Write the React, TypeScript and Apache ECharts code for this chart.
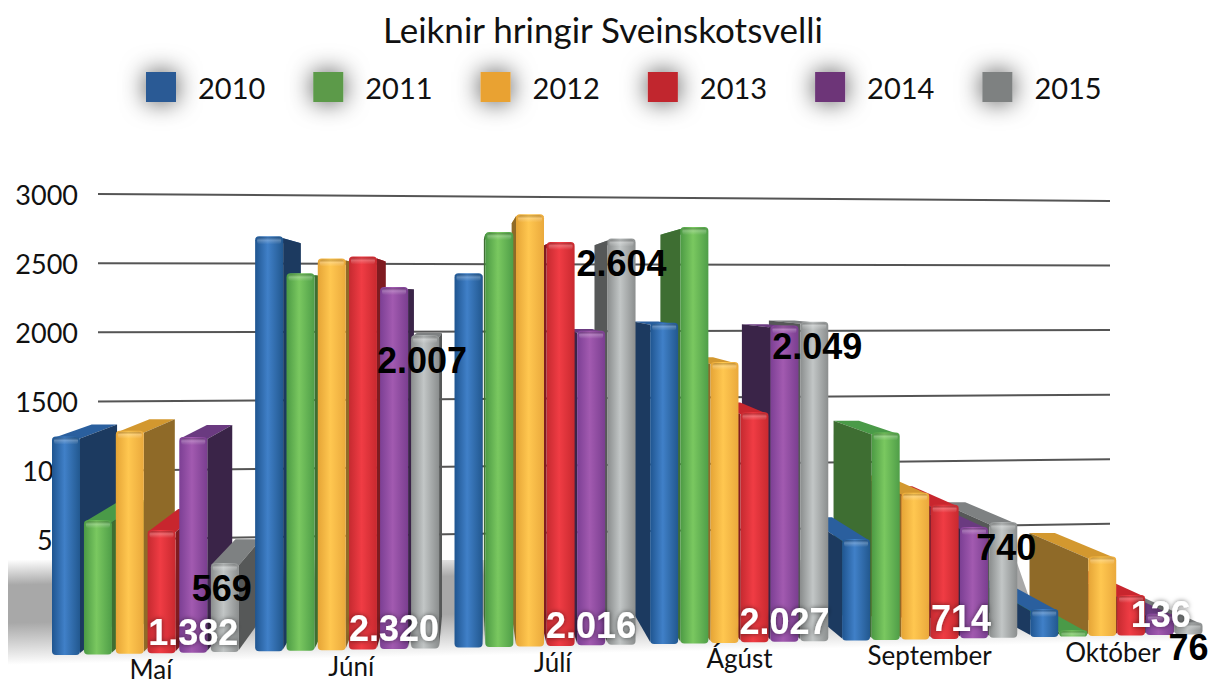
import React, { useEffect, useRef } from "react";
import * as echarts from "echarts";

const months = ["Maí", "Júní", "Júlí", "Ágúst", "September", "Október"];
const years = ["2010", "2011", "2012", "2013", "2014", "2015"];
const v2010 = [1400, 2660, 2400, 2060, 650, 180];
const v2011 = [860, 2420, 2660, 2670, 1330, 40];
const v2012 = [1430, 2510, 2770, 1800, 940, 510];
const v2013 = [790, 2520, 2590, 1475, 860, 260];
const v2014 = [1382, 2320, 2016, 2027, 714, 136];
const v2015 = [569, 2007, 2604, 2049, 740, 76];
const gridTicks = [500, 1000, 1500, 2000, 2500, 3000];
const allValues = [v2010, v2011, v2012, v2013, v2014, v2015];

const legendColors = ["#2a5a95", "#5b9a4a", "#e9a233", "#c1272d", "#6d3578", "#7e8181"];
const frontStops = [
  ["#1f5590", "#4080c8", "#22588f"],
  ["#4c9a44", "#7ac860", "#4f9e48"],
  ["#e5a436", "#ffc750", "#eaa93c"],
  ["#c52a30", "#f03c44", "#c8292f"],
  ["#7c3f94", "#a25ab0", "#7a3e90"],
  ["#8a8d8d", "#c2c6c6", "#8b8e8e"],
];
const topColors = ["#2a5f9e", "#4a9a48", "#d3982f", "#c8262e", "#6a3a80", "#7e8182"];
const sideColors = ["#1c3a60", "#3e6e32", "#8f6a28", "#7f1b20", "#3a2448", "#565858"];

const FONT = "Lato, 'Noto Sans', sans-serif";
const LEFT = 52;
const BASE_Y = 655;
const BAND = 205;
const INNER_STEP = 32;
const BAR_W = 28;
const VP = [470, 310];
const K = 0.095;
// small horizontal nudges for labels, as placed in the picture
const nudge2014 = [0, 0, 0, 0, -13, 1];
const nudge2015 = [-3, -3, 0, 3, 3, 0];
const nudgeMonths = [3, 2, 6, -1, -1, -4];

const warp = (x: number) => x - 4.45e-5 * (x - LEFT) * (x - LEFT);
const baseAt = (x: number) => BASE_Y - ((x - LEFT) * 21) / 1145;
const fmt = (v: number) => (v >= 1000 ? `${Math.floor(v / 1000)}.${String(v % 1000).padStart(3, "0")}` : String(v));
const back = (x: number, y: number) => [x + K * (VP[0] - x), y + K * (VP[1] - y)];

const barGeom = (api: any, s: number) => {
  const c = api.coord([api.value(0), api.value(1)]);
  const x = warp(c[0] - BAND / 2 + s * INNER_STEP);
  const base = baseAt(x);
  const top = base - (BASE_Y - c[1]);
  return { x, base, top };
};

const barSeries = (s: number) => ({
  type: "custom",
  name: years[s],
  xAxisIndex: 0,
  yAxisIndex: 0,
  itemStyle: { color: legendColors[s] },
  encode: { x: 0, y: 1 },
  data: allValues[s].map((v, m) => [m, v]),
  renderItem: (_: any, api: any) => {
    const { x, base, top } = barGeom(api, s);
    const r = x + BAR_W;
    const cx = x + BAR_W / 2;
    const z2 = Math.round(2000 - Math.abs(cx - VP[0]));
    const leftSide = cx > VP[0];
    const ex = leftSide ? x : r;
    const exB = back(ex, top);
    const exBase = back(ex, base);
    const oB = back(leftSide ? r : x, top);
    const grad = new echarts.graphic.LinearGradient(0, 0, 1, 0, [
      { offset: 0, color: frontStops[s][0] },
      { offset: 0.45, color: frontStops[s][1] },
      { offset: 1, color: frontStops[s][2] },
    ]);
    const capH = Math.min(7, base - top);
    return {
      type: "group",
      children: [
        {
          type: "polygon",
          z2,
          shape: { points: [[x, top + 2], [r, top + 2], leftSide ? oB : exB, leftSide ? exB : oB] },
          style: { fill: topColors[s] },
        },
        {
          type: "polygon",
          z2,
          shape: { points: [[ex, top + 2], exB, exBase, [ex, base - 2]] },
          style: { fill: sideColors[s] },
        },
        {
          type: "rect",
          z2: z2 + 1,
          shape: { x, y: top, width: BAR_W, height: base - top, r: 4 },
          style: { fill: grad },
        },
        {
          type: "rect",
          z2: z2 + 1,
          shape: { x: x + 2, y: top + 1, width: BAR_W - 4, height: capH, r: 3 },
          style: {
            fill: new echarts.graphic.LinearGradient(0, 0, 0, 1, [
              { offset: 0, color: "rgba(0,0,0,0.18)" },
              { offset: 0.4, color: "rgba(255,255,255,0.25)" },
              { offset: 1, color: "rgba(255,255,255,0)" },
            ]),
          },
        },
      ],
    };
  },
});

const dataLabelSeries = (s: number, white: boolean, nudge: number[]) => ({
  type: "custom",
  name: `labels${years[s]}`,
  z: 20,
  silent: true,
  xAxisIndex: 0,
  yAxisIndex: 0,
  encode: { x: 0, y: 1 },
  data: allValues[s].map((v, m) => [m, v]),
  renderItem: (params: any, api: any) => {
    const { x, base, top } = barGeom(api, s);
    return {
      type: "text",
      x: x + BAR_W / 2 + nudge[params.dataIndex],
      y: white ? base - 20 : top + 25,
      style: {
        text: fmt(api.value(1)),
        fill: white ? "#ffffff" : "#000000",
        font: "bold 36px 'Liberation Sans', Arial, sans-serif",
        textAlign: "center",
        textVerticalAlign: "middle",
        ...(white ? { textShadowColor: "rgba(0,0,0,0.55)", textShadowBlur: 5 } : {}),
      },
    };
  },
});

const tickStyle = (right: number) => ({
  fontFamily: FONT,
  fontSize: 27,
  color: "#111",
  padding: [0, right, 0, 0],
});

const option: any = {
  animation: false,
  backgroundColor: "#ffffff",
  title: {
    text: "Leiknir hringir Sveinskotsvelli",
    left: 598,
    top: 6,
    textAlign: "center",
    textStyle: { fontFamily: FONT, fontSize: 35, fontWeight: "normal", color: "#111" },
  },
  legend: {
    data: years,
    left: 146,
    top: 72,
    padding: 0,
    icon: "rect",
    itemWidth: 30,
    itemHeight: 30,
    itemGap: 48,
    itemStyle: { shadowBlur: 24, shadowColor: "rgba(0,0,0,0.7)" },
    textStyle: { fontFamily: FONT, fontSize: 29, color: "#111", padding: [0, 0, 0, 17] },
  },
  grid: [
    { left: LEFT, top: 187, bottom: 30, width: BAND * 6, outerBoundsMode: "none" },
    { left: 98, top: 194, height: 415, width: 1012, outerBoundsMode: "none" },
  ],
  xAxis: [
    { type: "category", gridIndex: 0, data: months, show: false },
    { type: "value", gridIndex: 1, min: 0, max: 1, show: false },
  ],
  yAxis: [
    { type: "value", gridIndex: 0, min: 0, max: 3000, show: false },
    {
      type: "value",
      gridIndex: 1,
      min: 0,
      max: 3000,
      interval: 500,
      axisLine: { show: false },
      axisTick: { show: false },
      splitLine: { show: false },
      axisLabel: {
        margin: 5,
        fontFamily: FONT,
        fontSize: 27,
        color: "#111",
        formatter: (v: number) => {
          if (v === 0) return "";
          if (v === 500) return `{c|${v}}`;
          if (v === 1000) return `{b|${v}}`;
          return `{a|${v}}`;
        },
        rich: { a: tickStyle(15), b: tickStyle(8), c: tickStyle(9) },
      },
    },
  ],
  graphic: [
    {
      type: "polygon",
      z: -1,
      shape: { points: [[8, 560], [1016, 560], [1030, 600], [1195, 640], [1195, 660], [8, 668]] },
      style: {
        fill: new echarts.graphic.LinearGradient(
          0,
          560,
          2.1,
          665,
          [
            { offset: 0, color: "rgba(168,168,168,0)" },
            { offset: 0.24, color: "rgba(168,168,168,1)" },
            { offset: 0.6, color: "rgba(168,168,168,1)" },
            { offset: 1, color: "rgba(168,168,168,0)" },
          ],
          true
        ),
      },
    },
  ],
  series: [
    {
      type: "custom",
      name: "gridlines",
      z: 1,
      silent: true,
      xAxisIndex: 1,
      yAxisIndex: 1,
      data: gridTicks.map((t) => [0, t]),
      renderItem: (_: any, api: any) => {
        const a = api.coord([0, api.value(1)]);
        const b = api.coord([1, api.value(1)]);
        return {
          type: "line",
          shape: { x1: a[0], y1: a[1], x2: b[0], y2: b[1] + 0.0665 * (299 - b[1]) },
          style: { stroke: "#555", lineWidth: 2 },
        };
      },
    },
    ...years.map((_, s) => barSeries(s)),
    dataLabelSeries(4, true, nudge2014),
    dataLabelSeries(5, false, nudge2015),
    {
      type: "custom",
      name: "months",
      z: 19,
      silent: true,
      xAxisIndex: 0,
      yAxisIndex: 0,
      data: months.map((_, m) => [m, 0]),
      renderItem: (params: any, api: any) => {
        const c = api.coord([api.value(0), 0]);
        const x = warp(c[0]) - 6 + nudgeMonths[params.dataIndex];
        return {
          type: "text",
          x,
          y: baseAt(x) + 16,
          style: {
            text: months[params.dataIndex],
            fill: "#111",
            font: `26px ${FONT}`,
            textAlign: "center",
            textVerticalAlign: "middle",
          },
        };
      },
    },
  ],
};

export default function App() {
  const ref = useRef<HTMLDivElement>(null);
  useEffect(() => {
    document.body.style.margin = "0";
    document.body.style.overflow = "hidden";
    const chart = echarts.init(ref.current!, undefined, { renderer: "svg" });
    chart.setOption(option);
    return () => chart.dispose();
  }, []);
  return <div ref={ref} style={{ width: 1222, height: 685 }} />;
}
